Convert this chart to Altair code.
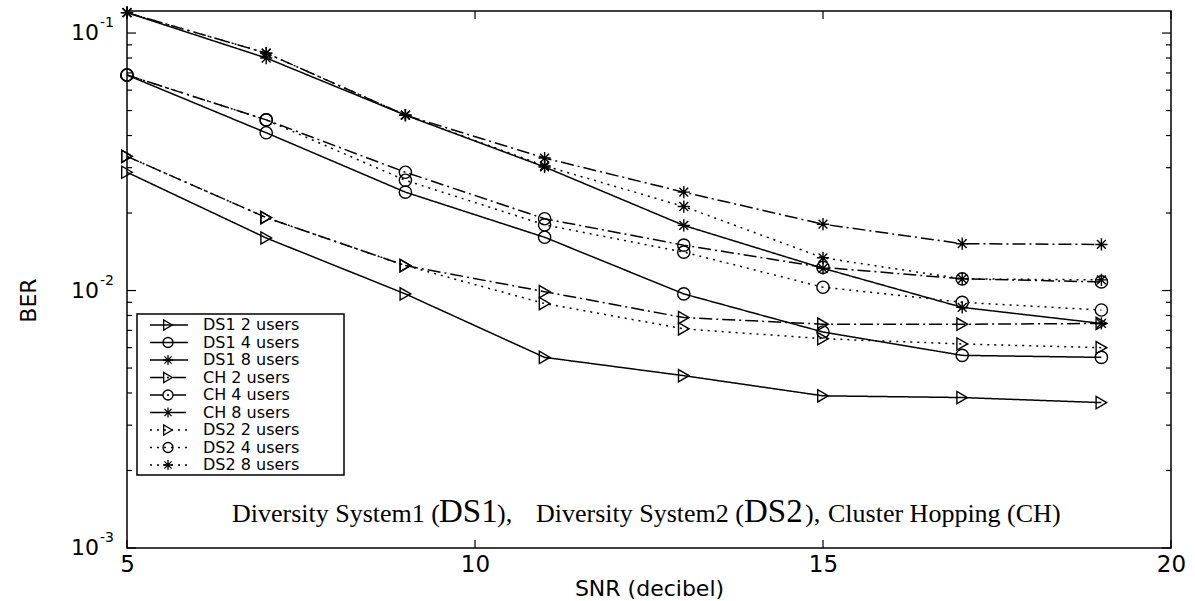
import altair as alt
import pandas as pd

# ---------------- data ----------------
snr = [5, 7, 9, 11, 13, 15, 17, 19]

ds1_2 = [0.0288, 0.0160, 0.0097, 0.0055, 0.00467, 0.0039, 0.00384, 0.00367]
ds1_4 = [0.0687, 0.0410, 0.0241, 0.0161, 0.0097, 0.0069, 0.0056, 0.0055]
ds1_8 = [0.1200, 0.0800, 0.0480, 0.0302, 0.0179, 0.0122, 0.0086, 0.00745]
ch_2 = [0.0332, 0.0192, 0.0125, 0.0099, 0.00785, 0.0074, 0.0074, 0.00745]
ch_4 = [0.0687, 0.0460, 0.0288, 0.0190, 0.0150, 0.0123, 0.0111, 0.0108]
ch_8 = [0.1200, 0.0836, 0.0480, 0.0327, 0.0241, 0.0181, 0.0152, 0.0151]
ds2_2 = [0.0332, 0.0192, 0.0125, 0.0089, 0.0071, 0.0065, 0.0062, 0.0060]
ds2_4 = [0.0687, 0.0460, 0.0268, 0.0180, 0.0141, 0.0103, 0.0090, 0.0084]
ds2_8 = [0.1200, 0.0836, 0.0480, 0.0305, 0.0212, 0.0134, 0.0111, 0.0110]

systems = ["DS1", "CH", "DS2"]
user_counts = ["2", "4", "8"]
series_values = [ds1_2, ds1_4, ds1_8, ch_2, ch_4, ch_8, ds2_2, ds2_4, ds2_8]

x_ticks = [5, 10, 15, 20]
y_major = [0.001, 0.01, 0.1]
y_exp = ["-3", "-2", "-1"]
y_minor = [0.002, 0.003, 0.004, 0.005, 0.006, 0.007, 0.008, 0.009,
           0.02, 0.03, 0.04, 0.05, 0.06, 0.07, 0.08, 0.09]

note_parts = ["Diversity System1 (", "DS1", "),", "Diversity System2 (", "DS2", "),",
              "Cluster Hopping (CH)"]

# ---------------- tables ----------------
rows, leg = [], []
i = 0
for sname in systems:
    for u in user_counts:
        vals = series_values[i]
        name = f"{sname} {u} users"
        for s, v in zip(snr, vals):
            rows.append({"system": sname, "users": u, "series": name, "snr": s, "ber": v})
        leg.append({"system": sname, "users": u, "series": name, "ly": 314 + i * 17.5})
        i += 1
df = pd.DataFrame(rows)
leg_df = pd.DataFrame(leg)

W, H = 1044, 537
STAR = "M-1,0L1,0M0,-1L0,1M-0.72,-0.72L0.72,0.72M-0.72,0.72L0.72,-0.72"

xs = alt.Scale(domain=[5, 20], nice=False, zero=False)
ys = alt.Scale(type="log", domain=[0.001, 0.1218], nice=False)
dash_scale = alt.Scale(domain=systems, range=[[1, 0], [13, 4, 2, 4], [2, 5]])
shape_scale = alt.Scale(domain=user_counts, range=["triangle-right", "circle", STAR])

FONT = "DejaVu Sans"

lines = alt.Chart(df).mark_line(color="black", strokeWidth=1.5).encode(
    x=alt.X("snr:Q", scale=xs,
            axis=alt.Axis(values=x_ticks, format="d", labelFont=FONT, labelFontSize=23,
                          labelColor="black", labelFlush=False, ticks=False, domain=False,
                          grid=False, labelPadding=5, title="SNR (decibel)",
                          titleFont=FONT, titleFontSize=22, titleFontWeight="normal",
                          titleColor="black", titleY=47, titleBaseline="alphabetic")),
    y=alt.Y("ber:Q", scale=ys,
            axis=alt.Axis(labels=False, ticks=False, domain=False, grid=False,
                          title="BER", titleFont=FONT, titleFontSize=22,
                          titleFontWeight="normal", titleColor="black",
                          titleX=-99, titleY=289, titleAngle=270,
                          titleAlign="center", titleBaseline="middle")),
    strokeDash=alt.StrokeDash("system:N", scale=dash_scale, legend=None),
    detail="series:N",
)

points = alt.Chart(df).mark_point(filled=False, color="black", strokeWidth=1.4,
                                  size=150, opacity=1).encode(
    x=alt.X("snr:Q", scale=xs),
    y=alt.Y("ber:Q", scale=ys),
    shape=alt.Shape("users:N", scale=shape_scale, legend=None),
)

# inward ticks
maj_df = pd.DataFrame({"v": y_major, "exp": y_exp, "base": ["10"] * 3})
min_df = pd.DataFrame({"v": y_minor})
xt_df = pd.DataFrame({"x": x_ticks})

def yticks(data, length):
    left = alt.Chart(data).mark_rule(color="black", strokeWidth=1.2).encode(
        y=alt.Y("v:Q", scale=ys), x=alt.value(0), x2=alt.value(length))
    right = alt.Chart(data).mark_rule(color="black", strokeWidth=1.2).encode(
        y=alt.Y("v:Q", scale=ys), x=alt.value(W - length), x2=alt.value(W))
    return left + right

xt_bottom = alt.Chart(xt_df).mark_rule(color="black", strokeWidth=1.2).encode(
    x=alt.X("x:Q", scale=xs), y=alt.value(H - 8), y2=alt.value(H))
xt_top = alt.Chart(xt_df).mark_rule(color="black", strokeWidth=1.2).encode(
    x=alt.X("x:Q", scale=xs), y=alt.value(0), y2=alt.value(8))

ylab = alt.Chart(maj_df).mark_text(align="right", baseline="middle", font=FONT,
                                   fontSize=22, color="black").encode(
    y=alt.Y("v:Q", scale=ys), x=alt.value(-28), text="base:N")
yexp = alt.Chart(maj_df).mark_text(align="left", baseline="middle", font=FONT,
                                   fontSize=14, color="black", dy=-10).encode(
    y=alt.Y("v:Q", scale=ys), x=alt.value(-27), text="exp:N")

# legend box
one = pd.DataFrame({"a": [0]})
box = alt.Chart(one).mark_rect(fill="white", stroke="black", strokeWidth=1.5).encode(
    x=alt.value(10), x2=alt.value(217), y=alt.value(303), y2=alt.value(464))
leg_lines = alt.Chart(leg_df).mark_rule(color="black", strokeWidth=1.3).encode(
    x=alt.value(23), x2=alt.value(61), y=alt.Y("ly:Q", scale=None),
    strokeDash=alt.StrokeDash("system:N", scale=dash_scale, legend=None))
leg_pts = alt.Chart(leg_df).mark_point(filled=False, color="black", strokeWidth=1.3,
                                       size=100, opacity=1).encode(
    x=alt.value(41), y=alt.Y("ly:Q", scale=None),
    shape=alt.Shape("users:N", scale=shape_scale, legend=None))
leg_txt = alt.Chart(leg_df).mark_text(align="left", baseline="middle", font=FONT,
                                      fontSize=16, color="black").encode(
    x=alt.value(76), y=alt.Y("ly:Q", scale=None), text="series:N")

# annotation text
note_x = [105, 312, 370, 409, 617, 678, 701]
note_size = [26, 33, 26, 26, 33, 26, 26]
notes = []
for t, px, fs in zip(note_parts, note_x, note_size):
    notes.append(alt.Chart(one).mark_text(align="left", baseline="alphabetic",
                                          font="Liberation Serif", fontSize=fs,
                                          color="black", text=t).encode(
        x=alt.value(px), y=alt.value(511)))

chart = alt.layer(
    lines, points, yticks(maj_df, 9), yticks(min_df, 5), xt_bottom, xt_top,
    ylab, yexp, box, leg_lines, leg_pts, leg_txt, *notes
).properties(
    width=W, height=H,
    autosize=alt.AutoSizeParams(type="none"),
    padding={"left": 127, "top": 11, "right": 24, "bottom": 53},
    background="white",
).configure_view(stroke="black", strokeWidth=1.5)

chart.save("out.html", embed_options={"renderer": "svg", "actions": False})
